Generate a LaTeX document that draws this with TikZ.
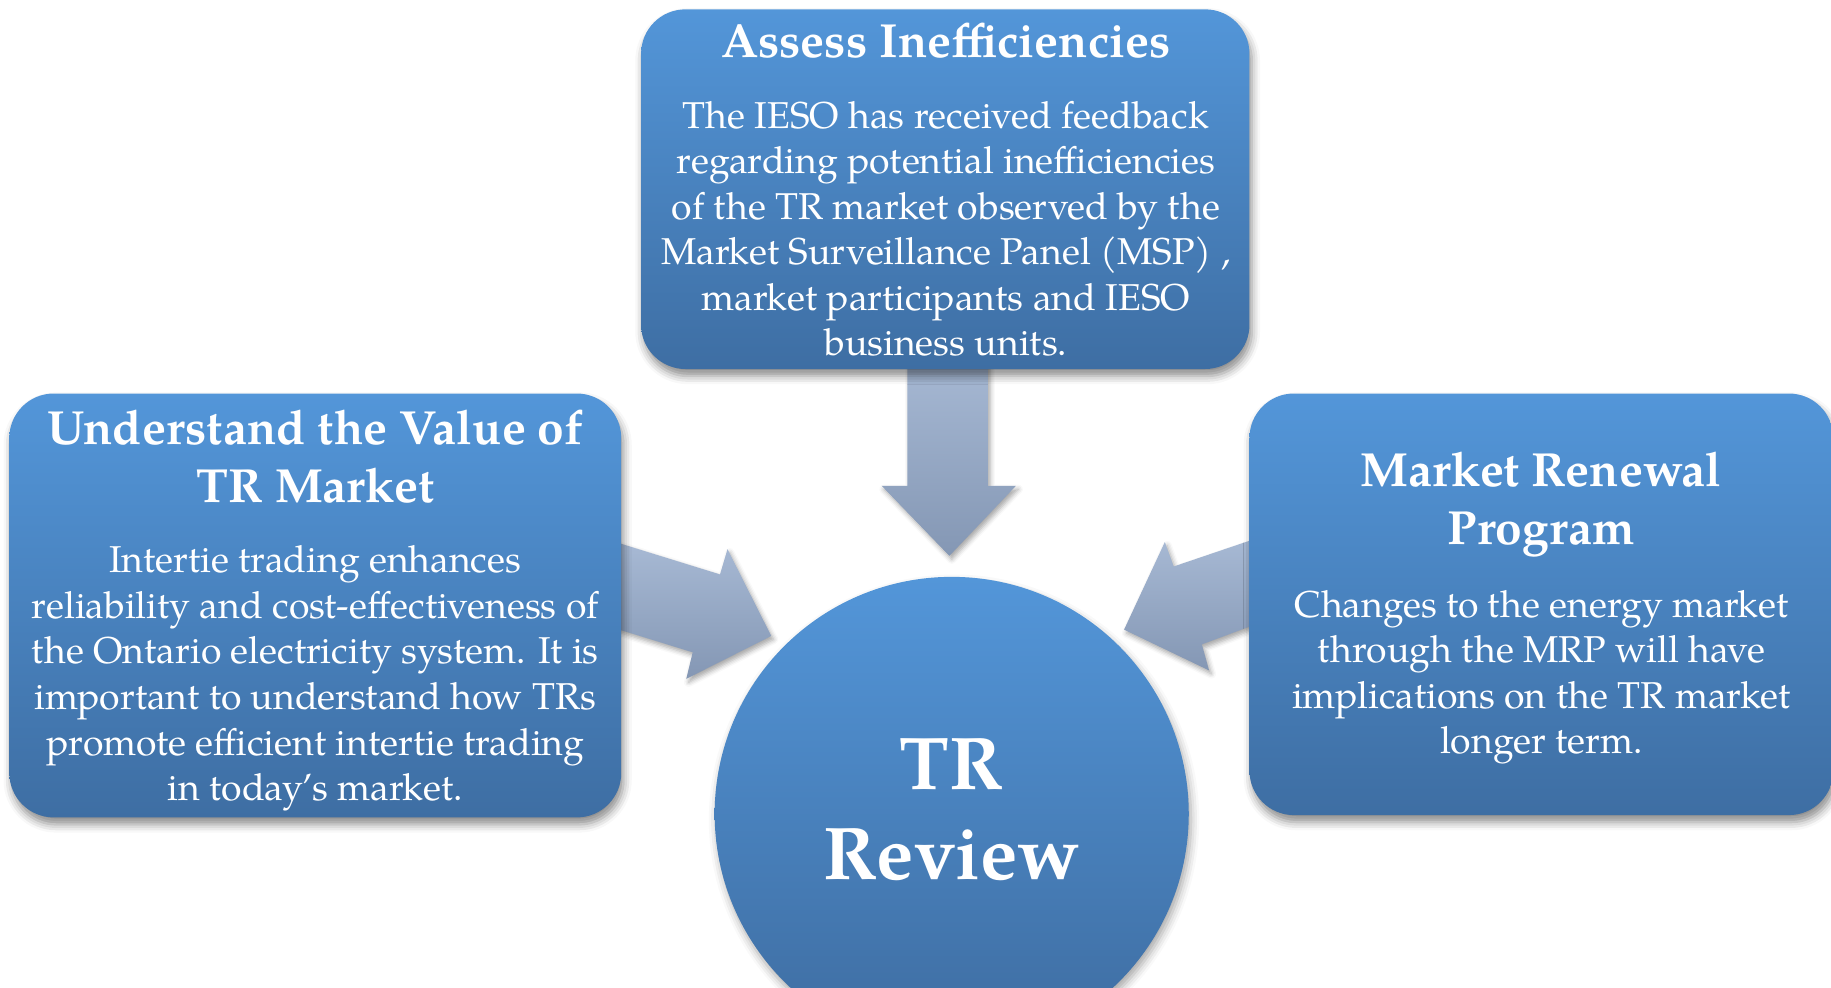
\documentclass[tikz,border=0pt]{standalone}
\usepackage{fontspec}
\setmainfont{texgyrepagella}[Extension=.otf,UprightFont=*-regular,BoldFont=*-bold,ItalicFont=*-italic,BoldItalicFont=*-bolditalic]
\usetikzlibrary{shadows.blur}

\definecolor{boxtop}{RGB}{83,150,217}
\definecolor{boxbot}{RGB}{62,110,163}
\definecolor{circbot}{RGB}{62,108,160}
\definecolor{arrtop}{RGB}{168,186,213}
\definecolor{arrbot}{RGB}{132,151,180}

\begin{document}
\begin{tikzpicture}[x=1pt,y=-1pt,
  card/.style={rectangle, rounded corners=38pt, draw=none, inner sep=0pt,
    top color=boxtop, bottom color=boxbot,
    blur shadow={shadow xshift=2pt, shadow yshift=-6pt, shadow blur radius=7pt, shadow opacity=45}},
  hub/.style={circle, draw=none, inner sep=0pt, minimum size=406pt,
    top color=boxtop, bottom color=circbot,
    blur shadow={shadow xshift=2pt, shadow yshift=-5pt, shadow blur radius=7pt, shadow opacity=35}},
  blockarrow/.style={draw=none, top color=arrtop, bottom color=arrbot,
    blur shadow={shadow xshift=2pt, shadow yshift=-3pt, shadow blur radius=4pt, shadow opacity=35}},
  heading/.style={text=white, align=center, font=\fontsize{41}{50}\selectfont\bfseries},
  bodytext/.style={text=white, align=center, font=\fontsize{32}{39}\selectfont},
  hubtext/.style={text=white, align=center, font=\fontsize{64}{77}\selectfont\bfseries}]

\useasboundingbox (0,0) rectangle (1568,846);
\clip (0,0) rectangle (1568,846);

% block arrows pointing at the hub (drawn first, so the cards cover their tails)
\path[blockarrow] (777,300) -- (846,300) -- (846,416) -- (870,416)
  -- (813,476) -- (755,416) -- (777,416) -- cycle;
\path[blockarrow] (520,462) -- (616.6,491.9) -- (623,470.3) -- (660.5,544.6)
  -- (587.7,581.3) -- (593.2,558.6) -- (520,536) -- cycle;
\path[blockarrow] (1085,458) -- (1005.1,485.1) -- (997.5,464.2) -- (962.6,539.2)
  -- (1035.4,574.1) -- (1029.2,551.8) -- (1085,531) -- cycle;

% three cards
\node[card, minimum width=521pt, minimum height=308pt] (assess) at (809.5,162) {};
\node[card, minimum width=524pt, minimum height=363pt] (value) at (270,518.5) {};
\node[card, minimum width=500pt, minimum height=361pt] (renewal) at (1320,517.5) {};

% central circle
\node[hub] (review) at (815,697) {};

% card texts
\node[heading] (assesshead) at (810,35) {Assess Inefficiencies};
\node[bodytext] (assessbody) at (810,196) { The IESO has received feedback\\regarding potential inefficiencies\\of the TR market observed by the\\Market Surveillance Panel (MSP) ,\\market participants and IESO\\business units.};

\node[heading] (valuehead) at (270,391) {Understand the Value of\\TR Market};
\node[bodytext] (valuebody) at (270,581) {Intertie trading enhances\\reliability and cost-effectiveness of\\the Ontario electricity system. It is\\important to understand how TRs\\promote efficient intertie trading\\in today’s market.};

\node[heading] (renewalhead) at (1320,432) {Market Renewal\\Program};
\node[bodytext] (renewalbody) at (1320,580) {Changes to the energy market\\through the MRP will have\\implications on the TR market\\longer term.};

\node[hubtext] (reviewtext) at (815,693) {TR\\Review};
\end{tikzpicture}
\end{document}
